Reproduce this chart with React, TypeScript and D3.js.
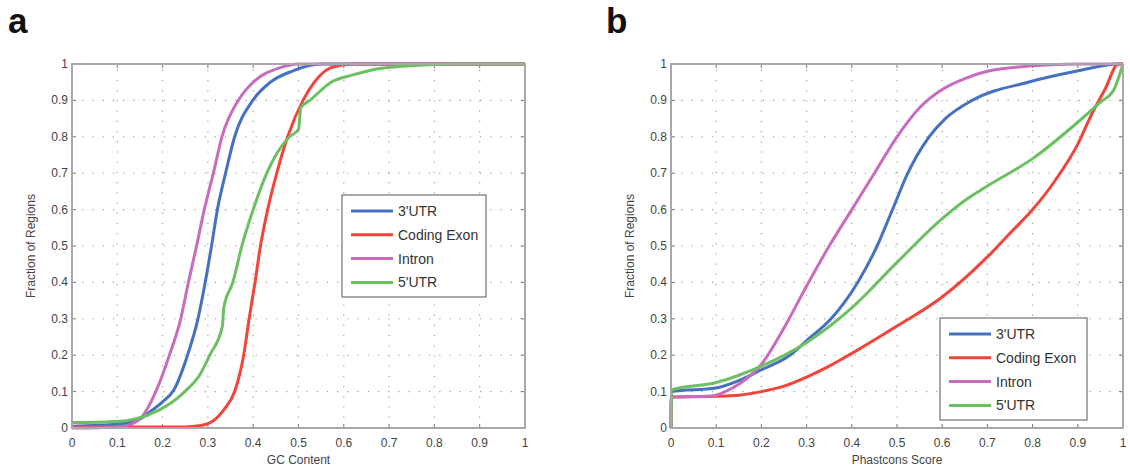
import React from 'react';
import * as d3 from 'd3';

type Pt = [number, number];

// panel a: cumulative fraction vs GC content
const gcUtr3: Pt[] = [[0, 0.005], [0.1, 0.01], [0.15, 0.025], [0.178, 0.05], [0.2, 0.072], [0.225, 0.105], [0.255, 0.2], [0.278, 0.3], [0.294, 0.4], [0.308, 0.5], [0.321, 0.6], [0.339, 0.7], [0.359, 0.8], [0.399, 0.9], [0.438, 0.95], [0.485, 0.98], [0.55, 1], [1, 1]];
const gcCoding: Pt[] = [[0, 0.003], [0.25, 0.003], [0.28, 0.006], [0.3, 0.012], [0.312, 0.02], [0.335, 0.05], [0.359, 0.1], [0.379, 0.2], [0.391, 0.3], [0.404, 0.4], [0.416, 0.5], [0.432, 0.6], [0.452, 0.7], [0.476, 0.8], [0.51, 0.9], [0.535, 0.95], [0.572, 0.99], [0.62, 1], [1, 1]];
const gcIntron: Pt[] = [[0, 0], [0.1, 0.003], [0.13, 0.01], [0.154, 0.03], [0.185, 0.1], [0.215, 0.2], [0.24, 0.3], [0.257, 0.4], [0.275, 0.5], [0.292, 0.6], [0.312, 0.7], [0.331, 0.8], [0.367, 0.9], [0.4, 0.95], [0.46, 0.99], [0.5, 1], [1, 1]];
const gcUtr5: Pt[] = [[0, 0.015], [0.1, 0.018], [0.14, 0.025], [0.193, 0.05], [0.22, 0.07], [0.249, 0.1], [0.284, 0.15], [0.304, 0.2], [0.332, 0.28], [0.335, 0.33], [0.355, 0.4], [0.375, 0.5], [0.4, 0.6], [0.43, 0.7], [0.45, 0.75], [0.48, 0.8], [0.5, 0.82], [0.505, 0.88], [0.525, 0.9], [0.572, 0.95], [0.62, 0.97], [0.667, 0.985], [0.746, 0.995], [0.85, 1], [1, 1]];

// panel b: cumulative fraction vs phastcons score
const phUtr3: Pt[] = [[0, 0], [0.001, 0.1], [0.1, 0.11], [0.15, 0.13], [0.2, 0.16], [0.263, 0.2], [0.3, 0.24], [0.354, 0.3], [0.413, 0.4], [0.456, 0.5], [0.48, 0.57], [0.5, 0.63], [0.52, 0.69], [0.545, 0.75], [0.571, 0.8], [0.607, 0.85], [0.666, 0.9], [0.79, 0.95], [0.896, 0.98], [0.99, 1], [1, 1]];
const phCoding: Pt[] = [[0, 0], [0.001, 0.085], [0.1, 0.087], [0.15, 0.09], [0.2, 0.1], [0.25, 0.115], [0.3, 0.14], [0.35, 0.17], [0.4, 0.205], [0.5, 0.28], [0.6, 0.36], [0.7, 0.47], [0.75, 0.535], [0.8, 0.6], [0.85, 0.68], [0.9, 0.78], [0.93, 0.86], [0.96, 0.93], [0.99, 1], [1, 1]];
const phIntron: Pt[] = [[0, 0], [0.001, 0.085], [0.09, 0.088], [0.12, 0.1], [0.15, 0.12], [0.2, 0.175], [0.25, 0.275], [0.3, 0.39], [0.35, 0.5], [0.4, 0.6], [0.45, 0.7], [0.5, 0.8], [0.55, 0.88], [0.6, 0.93], [0.65, 0.96], [0.7, 0.98], [0.8, 0.995], [0.9, 1], [1, 1]];
const phUtr5: Pt[] = [[0, 0], [0.001, 0.105], [0.1, 0.125], [0.15, 0.145], [0.2, 0.17], [0.3, 0.235], [0.4, 0.33], [0.5, 0.455], [0.6, 0.575], [0.65, 0.625], [0.7, 0.665], [0.8, 0.74], [0.9, 0.84], [0.95, 0.895], [0.98, 0.93], [1, 1]];

const seriesNames = ["3'UTR", 'Coding Exon', 'Intron', "5'UTR"];
const seriesColors = ['#4670c0', '#f2443a', '#c86cbe', '#6cc062'];
const tickValues = d3.range(0, 11).map((i) => i / 10);

const FONT = '"Liberation Sans", Arial, Helvetica, sans-serif';

const Panel = ({ left, right, letter, letterX, xLabel, series, legendX, legendY, legendW }) => {
	const top = 64;
	const bottom = 428;
	const x = d3.scaleLinear().domain([0, 1]).range([left, right]);
	const y = d3.scaleLinear().domain([0, 1]).range([bottom, top]);
	const line = d3.line<Pt>()
		.x((d) => x(d[0]))
		.y((d) => y(d[1]))
		.curve(d3.curveMonotoneX);
	const fmt = (v) => (v === 0 || v === 1 ? String(v) : d3.format('.1f')(v));

	return (
		<g fontFamily={ FONT }>
			<text x={ letterX } y={ 33 } fontSize={ 35 } fontWeight="bold" fill="#111">{ letter }</text>
			<rect x={ left } y={ top } width={ right - left } height={ bottom - top } fill="#fff"/>
			{ tickValues.map((t) => (
				<g key={ `g${ t }` } stroke="#999" strokeWidth={ 1.1 } strokeDasharray="1.2,9">
					{ t > 0 && t < 1 && <line x1={ x(t) } x2={ x(t) } y1={ bottom } y2={ top }/> }
					{ t > 0 && t < 1 && <line x1={ left } x2={ right } y1={ y(t) } y2={ y(t) }/> }
				</g>
			)) }
			{ tickValues.map((t) => (
				<g key={ `t${ t }` } stroke="#777" strokeWidth={ 1 }>
					<line x1={ x(t) } x2={ x(t) } y1={ bottom } y2={ bottom - 4 }/>
					<line x1={ x(t) } x2={ x(t) } y1={ top } y2={ top + 4 }/>
					<line x1={ left } x2={ left + 4 } y1={ y(t) } y2={ y(t) }/>
					<line x1={ right } x2={ right - 4 } y1={ y(t) } y2={ y(t) }/>
				</g>
			)) }
			{ series.map((s, i) => (
				<path key={ i } d={ line(s) } fill="none" stroke={ seriesColors[i] } strokeWidth={ 3 } strokeLinejoin="round"/>
			)) }
			<rect x={ left } y={ top } width={ right - left } height={ bottom - top } fill="none" stroke="#a8a8a8" strokeWidth={ 2 }/>
			{ tickValues.map((t) => (
				<text key={ `xl${ t }` } x={ x(t) } y={ bottom + 19 } fontSize={ 12 } fill="#444" textAnchor="middle">{ fmt(t) }</text>
			)) }
			{ tickValues.map((t) => (
				<text key={ `yl${ t }` } x={ left - 4 } y={ y(t) + 4 } fontSize={ 12 } fill="#444" textAnchor="end">{ fmt(t) }</text>
			)) }
			<text x={ (left + right) / 2 } y={ 464 } fontSize={ 12 } fill="#444" textAnchor="middle">{ xLabel }</text>
			<text transform={ `translate(${ left - 37 },${ (top + bottom) / 2 }) rotate(-90)` } fontSize={ 12 } fill="#444" textAnchor="middle">Fraction of Regions</text>
			<rect x={ legendX } y={ legendY } width={ legendW } height={ 102 } fill="#fff" stroke="#555" strokeWidth={ 1 }/>
			{ seriesNames.map((name, i) => (
				<g key={ name } transform={ `translate(${ legendX },${ legendY + 16 + i * 23.8 })` }>
					<line x1={ 9 } x2={ 51 } y1={ 0 } y2={ 0 } stroke={ seriesColors[i] } strokeWidth={ 3 }/>
					<text x={ 56 } y={ 5 } fontSize={ 14 } fill="#333">{ name }</text>
				</g>
			)) }
		</g>
	);
};

const App = () => (
	<svg width={ 1130 } height={ 470 } style={ { position: 'absolute', left: 0, top: 0, background: '#fff' } }>
		<Panel left={ 72 } right={ 525 } letter="a" letterX={ 8 } xLabel="GC Content"
			series={ [gcUtr3, gcCoding, gcIntron, gcUtr5] } legendX={ 342 } legendY={ 195 } legendW={ 144 }/>
		<Panel left={ 671 } right={ 1123 } letter="b" letterX={ 606 } xLabel="Phastcons Score"
			series={ [phUtr3, phCoding, phIntron, phUtr5] } legendX={ 940 } legendY={ 318 } legendW={ 147 }/>
	</svg>
);

export default App;
